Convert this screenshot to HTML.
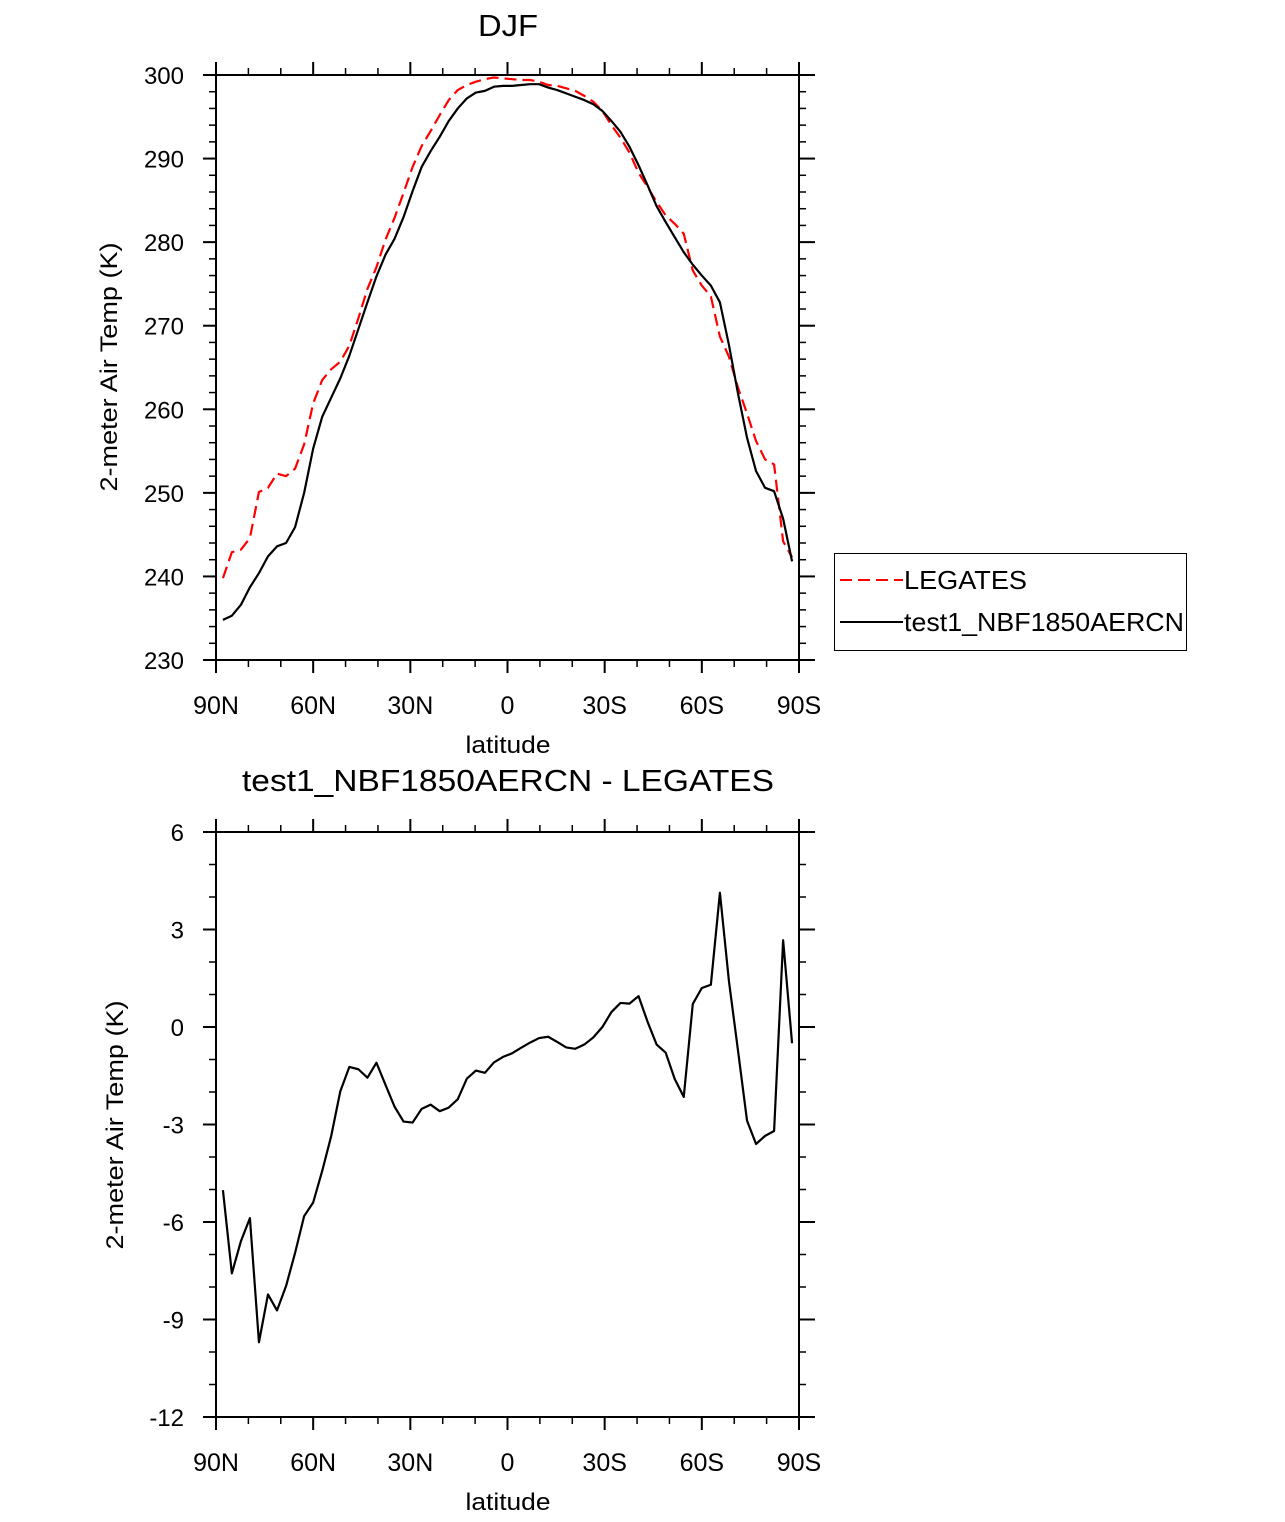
<!DOCTYPE html>
<html><head><meta charset="utf-8"><style>
html,body{margin:0;padding:0;background:#fff;}
svg text{font-family:"Liberation Sans",sans-serif;fill:#000;}
</style></head><body>
<svg id="chart" width="1285" height="1517" viewBox="0 0 1285 1517" xmlns="http://www.w3.org/2000/svg">
<text x="508" y="36" font-size="31" text-anchor="middle" textLength="60" lengthAdjust="spacingAndGlyphs">DJF</text>
<text x="508" y="791" font-size="31" text-anchor="middle" textLength="532" lengthAdjust="spacingAndGlyphs">test1_NBF1850AERCN - LEGATES</text>
<text transform="translate(117,367) rotate(-90)" font-size="24" text-anchor="middle" textLength="249" lengthAdjust="spacingAndGlyphs">2-meter Air Temp (K)</text>
<text transform="translate(123,1125) rotate(-90)" font-size="24" text-anchor="middle" textLength="249" lengthAdjust="spacingAndGlyphs">2-meter Air Temp (K)</text>
<text x="508" y="753" font-size="24" text-anchor="middle" textLength="85" lengthAdjust="spacingAndGlyphs">latitude</text>
<text x="508" y="1510" font-size="24" text-anchor="middle" textLength="85" lengthAdjust="spacingAndGlyphs">latitude</text>
<g id="top"></g>
<g id="bot"></g>
<g>
<rect x="834.5" y="553.5" width="352" height="97" fill="#fff" stroke="#000" stroke-width="1"/>
<line x1="840" y1="580" x2="903" y2="580" stroke="#f00" stroke-width="2" stroke-dasharray="12,6"/>
<text x="904" y="589" font-size="26" textLength="123" lengthAdjust="spacingAndGlyphs">LEGATES</text>
<line x1="840" y1="622" x2="903" y2="622" stroke="#000" stroke-width="2"/>
<text x="904" y="631" font-size="26" textLength="280" lengthAdjust="spacingAndGlyphs">test1_NBF1850AERCN</text>
</g>
</svg>
<script>
const lats = [87.86,85.1,82.31,79.53,76.74,73.95,71.16,68.37,65.58,62.79,60,57.21,54.42,51.63,48.84,46.04,43.25,40.46,37.67,34.88,32.09,29.3,26.51,23.72,20.93,18.14,15.35,12.56,9.77,6.98,4.19,1.4,-1.4,-4.19,-6.98,-9.77,-12.56,-15.35,-18.14,-20.93,-23.72,-26.51,-29.3,-32.09,-34.88,-37.67,-40.46,-43.25,-46.04,-48.84,-51.63,-54.42,-57.21,-60,-62.79,-65.58,-68.37,-71.16,-73.95,-76.74,-79.53,-82.31,-85.1,-87.86];
const modelT = [234.8,235.3,236.6,238.7,240.4,242.4,243.6,244.0,245.9,250.0,255.3,259.1,261.4,263.7,266.4,269.6,272.8,275.9,278.5,280.4,283.0,286.1,289.0,290.9,292.6,294.5,296.0,297.2,297.9,298.1,298.6,298.7,298.7,298.8,298.9,298.9,298.5,298.2,297.8,297.4,297.0,296.5,295.7,294.5,293.2,291.4,289.2,286.8,284.3,282.4,280.6,278.8,277.3,276.0,274.8,272.8,267.7,261.9,256.6,252.6,250.6,250.2,246.9,241.8];
const legatesT = [239.8,242.9,243.2,244.6,250.1,250.6,252.3,252.0,252.9,255.8,260.7,263.5,264.8,265.7,267.6,270.9,274.4,277.0,280.3,282.9,285.9,289.0,291.5,293.3,295.2,297.0,298.2,298.8,299.2,299.5,299.7,299.6,299.5,299.4,299.4,299.2,298.8,298.7,298.4,298.1,297.5,296.8,295.7,294.0,292.5,290.7,288.3,286.6,284.8,283.2,282.2,281.0,276.6,274.8,273.5,268.7,266.3,262.6,259.5,256.2,254.0,253.4,244.2,242.3];
const diffT = [-5.02,-7.58,-6.59,-5.88,-9.70,-8.23,-8.72,-7.97,-6.95,-5.82,-5.40,-4.43,-3.35,-1.98,-1.23,-1.30,-1.56,-1.10,-1.78,-2.45,-2.91,-2.94,-2.52,-2.39,-2.59,-2.48,-2.22,-1.59,-1.34,-1.41,-1.09,-0.92,-0.81,-0.64,-0.48,-0.34,-0.30,-0.46,-0.63,-0.67,-0.54,-0.32,0.0,0.46,0.74,0.72,0.95,0.16,-0.54,-0.79,-1.60,-2.15,0.71,1.20,1.30,4.13,1.41,-0.72,-2.88,-3.60,-3.35,-3.20,2.67,-0.50];
const xTickVals = [90,60,30,0,-30,-60,-90];
const xTickLabels = ["90N","60N","30N","0","30S","60S","90S"];
const topYTicks = [230,240,250,260,270,280,290,300];
const botYTicks = [-12,-9,-6,-3,0,3,6];

const NS="http://www.w3.org/2000/svg";
function mk(parent,tag,attrs){const e=document.createElementNS(NS,tag);for(const k in attrs)e.setAttribute(k,attrs[k]);parent.appendChild(e);return e;}
const X0=216,X1=799;
function xs(lat){return X0+(90-lat)/180*(X1-X0);}

function panel(g,top,bottom,ymin,ymax,yticks,minorStep,prefix){
  const ys=v=>bottom-(v-ymin)/(ymax-ymin)*(bottom-top);
  for(let v=ymin;v<=ymax+1e-9;v+=minorStep){
    const y=ys(v);
    const l1=mk(g,'line',{x1:X0-7,y1:y,x2:X0,y2:y,stroke:'#000','stroke-width':1.5});
    
    
    const l2=mk(g,'line',{x1:X1,y1:y,x2:X1+7,y2:y,stroke:'#000','stroke-width':1.5});
    
    
  }
  yticks.forEach(v=>{
    const y=ys(v);
    const l1=mk(g,'line',{x1:X0-13,y1:y,x2:X0,y2:y,stroke:'#000','stroke-width':2});
    
    
    const l2=mk(g,'line',{x1:X1,y1:y,x2:X1+16,y2:y,stroke:'#000','stroke-width':2});
    
    
    const t=mk(g,'text',{x:184,y:y+9,'font-size':24,'text-anchor':'end'});
    t.textContent=String(v);
    
    
  });
  for(let lat=90;lat>=-90;lat-=10){
    const x=xs(lat);const major=(lat%30===0);const L=major?13:7;
    const a=mk(g,'line',{x1:x,y1:bottom,x2:x,y2:bottom+L,stroke:'#000','stroke-width':major?2:1.5});
    
    
    const b=mk(g,'line',{x1:x,y1:top-L,x2:x,y2:top,stroke:'#000','stroke-width':major?2:1.5});
    
    
  }
  xTickVals.forEach((v,i)=>{
    const t=mk(g,'text',{x:xs(v),y:bottom+54,'font-size':25,'text-anchor':'middle'});
    t.textContent=xTickLabels[i];
    
    
  });
  const r=mk(g,'rect',{x:X0,y:top,width:X1-X0,height:bottom-top,fill:'none',stroke:'#000','stroke-width':2});
  
  
  return ys;
}
function series(g,vals,ys,color,dash,name){
  const d=vals.map((v,i)=>(i?'L':'M')+xs(lats[i]).toFixed(2)+','+ys(v).toFixed(2)).join('');
  const p=mk(g,'path',{d:d,fill:'none',stroke:color,'stroke-width':2.2,'stroke-linejoin':'round'});
  if(dash)p.setAttribute('stroke-dasharray',dash);
  
  
}
const gt=document.getElementById('top');
const ysT=panel(gt,75,660,230,300,topYTicks,2,'top');
series(gt,legatesT,ysT,'#f00','12,6','legates-line');
series(gt,modelT,ysT,'#000',null,'model-line');
const gb=document.getElementById('bot');
const ysB=panel(gb,832,1417,-12,6,botYTicks,1,'diff');
series(gb,diffT,ysB,'#000',null,'difference-line');
</script>
</body></html>
